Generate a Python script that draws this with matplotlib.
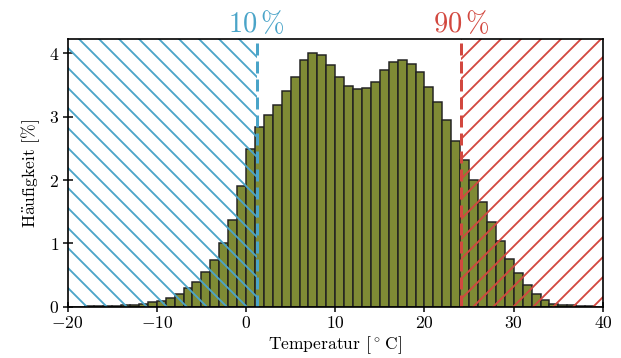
import matplotlib
matplotlib.use("Agg")
import matplotlib.pyplot as plt

plt.rcParams['font.family'] = 'serif'
plt.rcParams['font.serif'] = ['cmr10']
plt.rcParams['mathtext.fontset'] = 'cm'
plt.rcParams['axes.formatter.use_mathtext'] = True
plt.rcParams['hatch.linewidth'] = 1.1

# bin left edges (°C) and frequencies (%)
bin_starts = list(range(-20, 40))
freq = [0.0, 0.002, 0.004, 0.006, 0.01, 0.015, 0.02, 0.03, 0.04, 0.07,
        0.09, 0.14, 0.20, 0.29, 0.39, 0.54, 0.74, 1.01, 1.37, 1.91,
        2.49, 2.83, 3.02, 3.18, 3.40, 3.62, 3.89, 4.01, 3.98, 3.82,
        3.63, 3.48, 3.43, 3.45, 3.55, 3.73, 3.87, 3.89, 3.83, 3.71,
        3.47, 3.23, 2.94, 2.61, 2.32, 2.00, 1.66, 1.33, 1.03, 0.75,
        0.53, 0.34, 0.20, 0.11, 0.05, 0.03, 0.02, 0.01, 0.005, 0.002]
p10 = 1.2
p90 = 24.1
labels = [r'$10\,\%$', r'$90\,\%$']
xticks = [-20, -10, 0, 10, 20, 30, 40]
yticks = [0, 1, 2, 3, 4]

blue = '#4aa4c8'
red = '#d2483f'
olive = '#7f8b35'

fig = plt.figure(figsize=(621/120, 358/120), dpi=120)
ax = fig.add_axes([0.1087, 0.1433, 0.8623, 0.7467])

ax.bar(bin_starts, freq, width=1, align='edge', color=olive,
       edgecolor='#222222', linewidth=0.9, zorder=2)

xmin, xmax = -20, 40
ax.axvspan(xmin, p10, facecolor='none', edgecolor=blue, hatch='\\\\',
           linewidth=0, zorder=3)
ax.axvspan(p90, xmax, facecolor='none', edgecolor=red, hatch='//',
           linewidth=0, zorder=3)
ax.axvline(p10, color=blue, linestyle=(0, (4, 2)), linewidth=1.8, zorder=4)
ax.axvline(p90, color=red, linestyle=(0, (4, 2)), linewidth=1.8, zorder=4)

ax.set_xlim(xmin, xmax)
ax.set_ylim(0, 4.22)
ax.set_xticks(xticks)
ax.set_yticks(yticks)

ax.text(p10, 4.24, labels[0], color=blue, fontsize=17, ha='center',
        va='bottom', transform=ax.transData)
ax.text(p90, 4.24, labels[1], color=red, fontsize=17, ha='center',
        va='bottom', transform=ax.transData)

ax.set_xlabel(r'Temperatur [$^\circ\,$C]', fontsize=10.5, labelpad=2)
ax.set_ylabel(r'H$\ddot{\mathrm{a}}$ufigkeit [%]', fontsize=10.5, labelpad=4)
ax.tick_params(direction='inout', length=6, width=0.9, labelsize=10.5, pad=2)
for s in ax.spines.values():
    s.set_linewidth(1.0)
    s.set_zorder(5)

fig.savefig('out.png', dpi=120)
